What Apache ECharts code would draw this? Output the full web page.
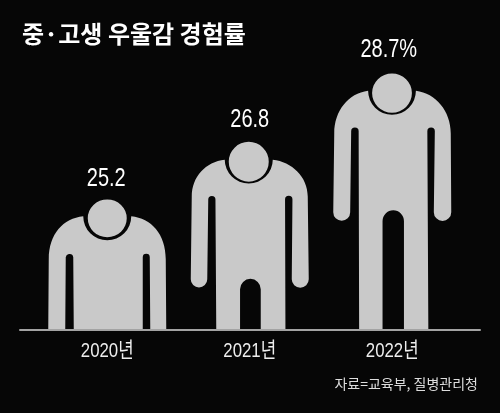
<!DOCTYPE html>
<html>
<head>
<meta charset="utf-8">
<style>
  html, body { margin: 0; padding: 0; background: #060606; }
  #chart { width: 500px; height: 413px; }
</style>
</head>
<body>
<div id="chart"></div>
<script src="https://cdn.jsdelivr.net/npm/echarts@6/dist/echarts.min.js"></script>
<script>
const years = ['2020년', '2021년', '2022년']
const rates = [25.2, 26.8, 28.7]
const rateLabels = ['25.2', '26.8', '28.7%']
const axisMin = 21.6
const axisMax = 29.6

// 사람 모양 (몸통 + 머리)
const figurePaths = [
  'path://M0 130L0.5 60C0.5 35 15 19 35 17A24 24 0 1 0 83 17C103 19 117.5 35 117.5 60L118 130L102 130L101.5 58A3.5 3.5 0 0 0 94.5 58L94.5 130L25.5 130L25 58A3.8 3.8 0 0 0 17.5 58L17 130Z' +
    'M39.5 19A19.5 19 0 1 1 78.5 19A19.5 19 0 1 1 39.5 19Z',
  'path://M25.5 188L24.7 58A3.6 3.6 0 0 0 17.5 58L16.5 138A8.25 8.25 0 0 1 0 138L1 55C1 35 15 20 34 18A24 24 0 1 0 82 18C101 20 117 35 117 55L118 138A8.5 8.5 0 0 1 101 138L101.7 58A3.7 3.7 0 0 0 94.3 58L94.7 188L70 188L70 148A10.35 10.35 0 0 0 49.3 148L49.3 188Z' +
    'M38 20A20 20 0 1 1 78 20A20 20 0 1 1 38 20Z',
  'path://M26 256L25.5 58A3.75 3.75 0 0 0 18 58L17 139A8.5 8.5 0 0 1 0 139L1 60C1 38 15 20 35 17.5A24 24 0 1 0 83 17.5C103 20 118 38 118 60L118.5 139A8.75 8.75 0 0 1 101 139L102 58A3.75 3.75 0 0 0 94.5 58L95.5 256L71 256L71 148A10.75 11 0 0 0 49.5 148L49.5 256Z' +
    'M39 19.7A20 19.7 0 1 1 79 19.7A20 19.7 0 1 1 39 19.7Z'
]

// 수치 라벨 위치 보정 (머리 위 간격, 가로 이동)
const labelGaps = [8, 9, 11]
const labelShifts = [-1, 0, -3.5]

// 좁은 글꼴이 없어서 글자를 가로로 눌러서 그림
const numFont = '"Liberation Sans", "Noto Sans CJK KR", sans-serif'
function narrowText (x, y, text, fontSize, color, scaleX) {
  return {
    type: 'text',
    x: x,
    y: y,
    scaleX: scaleX,
    style: {
      text: text,
      fill: color,
      font: fontSize + 'px ' + numFont,
      align: 'center',
      verticalAlign: 'bottom'
    }
  }
}

const chart = echarts.init(document.getElementById('chart'))

chart.setOption({
  backgroundColor: '#060606',
  animation: false,
  title: [
    {
      text: '중·고생 우울감 경험률',
      left: 17,
      top: 17,
      textStyle: { color: '#fff', fontFamily: 'Noto Sans CJK KR', fontSize: 24, fontWeight: 'bold' }
    },
    {
      text: '자료=교육부, 질병관리청',
      right: 17,
      top: 372,
      textStyle: { color: '#ddd', fontFamily: 'Noto Sans CJK KR', fontSize: 14, fontWeight: 'normal' }
    }
  ],
  grid: [
    { left: 36, right: 36.5, top: 41, bottom: 84 },
    { left: 20, right: 20, top: 41, bottom: 83 } // 바닥선은 그림보다 넓음
  ],
  xAxis: [
    {
      type: 'category',
      data: years,
      axisLine: { show: false },
      axisTick: { show: false },
      axisLabel: { show: false }
    },
    {
      type: 'category',
      gridIndex: 1,
      data: [''],
      axisLine: { lineStyle: { color: '#a3a3a3', width: 2 } },
      axisTick: { show: false },
      axisLabel: { show: false }
    }
  ],
  yAxis: [
    { type: 'value', min: axisMin, max: axisMax, show: false },
    { type: 'value', gridIndex: 1, show: false }
  ],
  series: [
    {
      type: 'pictorialBar',
      barWidth: 118,
      symbolPosition: 'end',
      data: rates.map((v, i) => ({
        value: v,
        symbol: figurePaths[i],
        // 막대는 0부터 계산되므로 축 최소값 위쪽만 차지하도록
        symbolSize: [118, (v - axisMin) / v * 100 + '%']
      })),
      itemStyle: { color: '#c9c9c9' },
      z: 2
    },
    {
      type: 'custom',
      coordinateSystem: 'cartesian2d',
      clip: false,
      silent: true,
      data: rates,
      z: 3,
      renderItem: function (params, api) {
        const i = params.dataIndex
        const top = api.coord([i, rates[i]])
        const bottom = api.coord([i, axisMin])
        return {
          type: 'group',
          children: [
            narrowText(top[0] + labelShifts[i], top[1] - labelGaps[i], rateLabels[i], 25, '#fff', 0.8),
            narrowText(bottom[0], bottom[1] + 33, years[i], 21, '#eee', 0.8)
          ]
        }
      }
    }
  ]
})
</script>
</body>
</html>
